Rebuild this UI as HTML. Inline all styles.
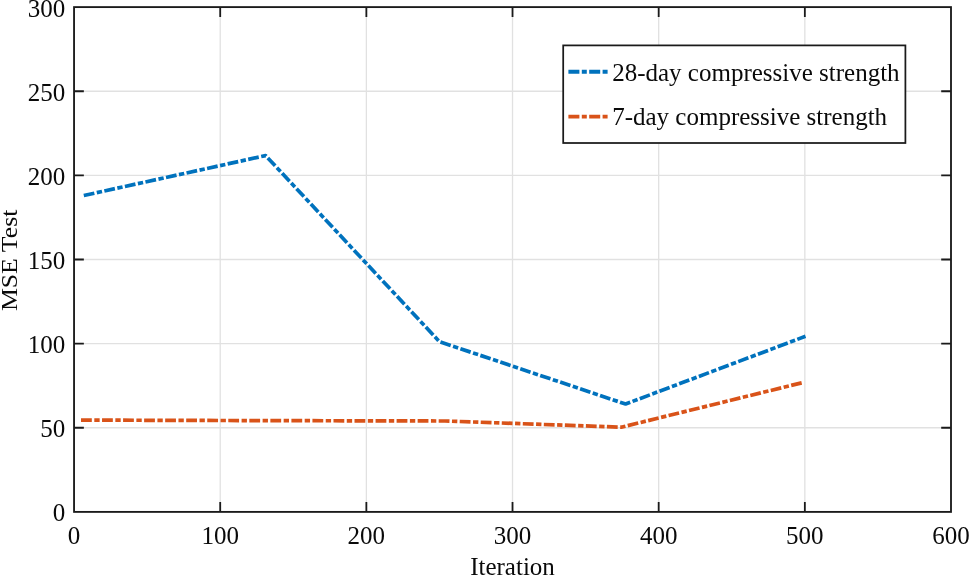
<!DOCTYPE html>
<html lang="en"><head><meta charset="utf-8"><title>MSE Test vs Iteration</title>
<style>html,body{margin:0;padding:0;background:#fff;}body{width:969px;height:575px;overflow:hidden;}svg{display:block;}text{font-family:"Liberation Serif","Times New Roman",serif;font-size:25px;fill:#0a0a0a;}</style></head><body>
<svg width="969" height="575" viewBox="0 0 969 575">
<rect x="0" y="0" width="969" height="575" fill="#ffffff"/>
<path d="M220.21 7.10V511.90M366.37 7.10V511.90M512.52 7.10V511.90M658.68 7.10V511.90M804.84 7.10V511.90M74.05 427.77H951.00M74.05 343.63H951.00M74.05 259.50H951.00M74.05 175.37H951.00M74.05 91.23H951.00" stroke="#e1e1e1" stroke-width="1.3" fill="none"/>
<polyline points="83.8,195.5 265.6,155.6 439.5,341.7 625.6,404.0 805.5,336.3" fill="none" stroke="#0072bd" stroke-width="3.7" stroke-linejoin="round" stroke-dasharray="10.8 2.5 5.35 2.39" stroke-dashoffset="0"/>
<polyline points="81.0,420.1 260.0,420.6 445.0,421.0 621.3,427.2 801.8,382.8" fill="none" stroke="#d95319" stroke-width="3.7" stroke-linejoin="round" stroke-dasharray="10.8 2.5 5.35 2.39" stroke-dashoffset="0"/>
<path d="M220.21 511.90v-9.80M220.21 7.10v9.80M366.37 511.90v-9.80M366.37 7.10v9.80M512.52 511.90v-9.80M512.52 7.10v9.80M658.68 511.90v-9.80M658.68 7.10v9.80M804.84 511.90v-9.80M804.84 7.10v9.80M74.05 427.77h9.80M951.00 427.77h-9.80M74.05 343.63h9.80M951.00 343.63h-9.80M74.05 259.50h9.80M951.00 259.50h-9.80M74.05 175.37h9.80M951.00 175.37h-9.80M74.05 91.23h9.80M951.00 91.23h-9.80" stroke="#1a1a1a" stroke-width="1.8" fill="none"/>
<rect x="74.05" y="7.1" width="876.95" height="504.8" fill="none" stroke="#1a1a1a" stroke-width="1.85"/>
<text x="74.05" y="544.2" text-anchor="middle">0</text>
<text x="220.21" y="544.2" text-anchor="middle">100</text>
<text x="366.37" y="544.2" text-anchor="middle">200</text>
<text x="512.52" y="544.2" text-anchor="middle">300</text>
<text x="658.68" y="544.2" text-anchor="middle">400</text>
<text x="804.84" y="544.2" text-anchor="middle">500</text>
<text x="951.00" y="544.2" text-anchor="middle">600</text>
<text x="65.2" y="521.35" text-anchor="end">0</text>
<text x="65.2" y="437.22" text-anchor="end">50</text>
<text x="65.2" y="353.08" text-anchor="end">100</text>
<text x="65.2" y="268.95" text-anchor="end">150</text>
<text x="65.2" y="184.82" text-anchor="end">200</text>
<text x="65.2" y="100.68" text-anchor="end">250</text>
<text x="65.2" y="16.55" text-anchor="end">300</text>
<text x="512.5" y="575" text-anchor="middle">Iteration</text>
<text transform="translate(16.9 260.4) rotate(-90) scale(1.03 0.95)" text-anchor="middle">MSE Test</text>
<rect x="563.2" y="45.4" width="342.2" height="97.6" fill="#ffffff" stroke="#1a1a1a" stroke-width="1.75"/>
<path d="M568.4 71.8H608.4" stroke="#0072bd" stroke-width="3.9" stroke-dasharray="11 2.4 5 2.4" fill="none"/>
<path d="M568.4 116.6H608.4" stroke="#d95319" stroke-width="3.9" stroke-dasharray="11 2.4 5 2.4" fill="none"/>
<text x="612.2" y="80.6">28-day compressive strength</text>
<text x="612.2" y="125.4">7-day compressive strength</text>
</svg></body></html>
